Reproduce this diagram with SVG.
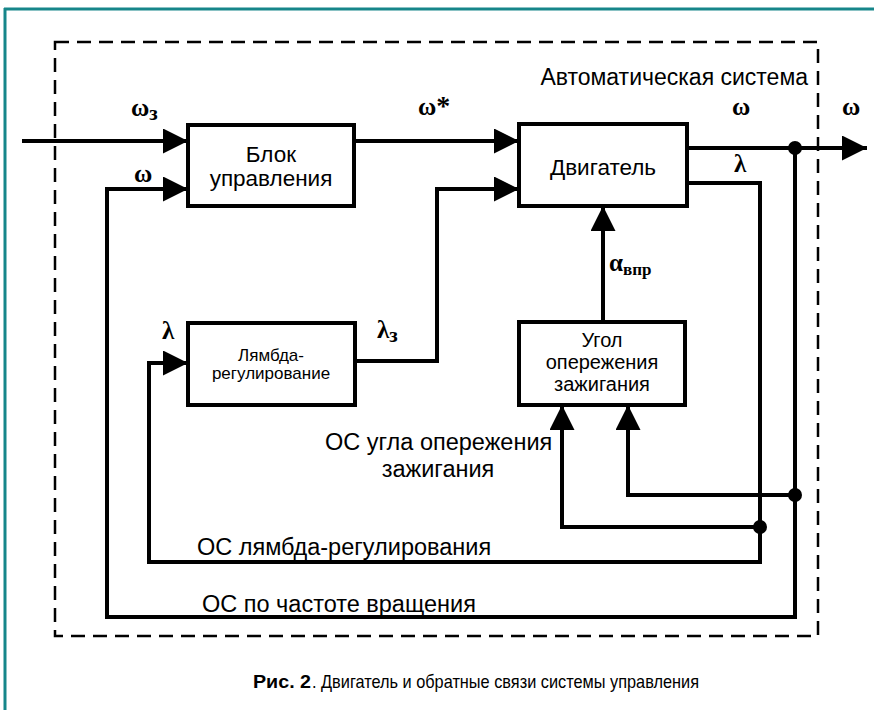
<svg xmlns="http://www.w3.org/2000/svg" width="874" height="710" viewBox="0 0 874 710">
  <style>
    .box { fill: #ffffff; stroke: #000000; stroke-width: 4; }
    .wire { fill: none; stroke: #000000; stroke-width: 4; stroke-linejoin: miter; }
    .lbl { font-family: "Liberation Sans", Arial, sans-serif; fill: #000000; }
    .sym { font-family: "Liberation Serif", "Times New Roman", serif; font-weight: bold; fill: #000000; font-size: 25px; }
    .dot { fill: #000000; }
  </style>
  <defs>
    <marker id="arrow" markerUnits="userSpaceOnUse" markerWidth="26" markerHeight="26" refX="25" refY="12.5" orient="auto">
      <path d="M0,0 L25,12.5 L0,25 Z" fill="#000000"/>
    </marker>
  </defs>

  <rect width="874" height="710" fill="#ffffff"/>

  <!-- page frame -->
  <g id="frame">
    <line x1="4" y1="9" x2="874" y2="9" stroke="#16868a" stroke-width="3"/>
    <line x1="5" y1="8" x2="5" y2="710" stroke="#16868a" stroke-width="3"/>
  </g>

  <!-- system boundary -->
  <g id="system">
    <rect x="55" y="42" width="763" height="594" fill="none" stroke="#000000" stroke-width="2.5" stroke-dasharray="14 8"/>
    <text class="lbl" x="808" y="85" font-size="23" text-anchor="end">Автоматическая система</text>
  </g>

  <!-- connectors -->
  <g id="connectors">
    <path class="wire" d="M22,141 H188" marker-end="url(#arrow)"/>
    <path class="wire" d="M354,141 H519" marker-end="url(#arrow)"/>
    <path class="wire" d="M687,148 H867" marker-end="url(#arrow)"/>
    <path class="wire" d="M795,148 V617 H107 V189 H188" marker-end="url(#arrow)"/>
    <path class="wire" d="M687,183 H760 V562 H149 V363 H188" marker-end="url(#arrow)"/>
    <path class="wire" d="M355,361 H437 V189 H519" marker-end="url(#arrow)"/>
    <path class="wire" d="M603,322 V206" marker-end="url(#arrow)"/>
    <path class="wire" d="M795,495 H628 V405" marker-end="url(#arrow)"/>
    <path class="wire" d="M760,527 H562 V405" marker-end="url(#arrow)"/>
    <circle class="dot" cx="795" cy="148" r="7"/>
    <circle class="dot" cx="795" cy="495" r="7"/>
    <circle class="dot" cx="760" cy="527" r="7"/>
  </g>

  <!-- signal labels -->
  <g id="signals">
    <text class="sym" x="131" y="116">ω<tspan font-size="21" dy="4">з</tspan></text>
    <text class="sym" x="134" y="182">ω</text>
    <text class="sym" x="418" y="115">ω<tspan font-size="28">*</tspan></text>
    <text class="sym" x="732" y="115">ω</text>
    <text class="sym" x="842" y="115">ω</text>
    <text class="sym" x="734" y="172">λ</text>
    <text class="sym" x="609" y="271">α<tspan font-size="17" dy="4">впр</tspan></text>
    <text class="sym" x="162" y="339">λ</text>
    <text class="sym" x="377" y="338">λ<tspan font-size="21" dy="4">з</tspan></text>
  </g>

  <g id="control-unit">
    <rect class="box" x="188" y="125" width="166" height="81"/>
    <text class="lbl" x="271" y="162" font-size="22.5" text-anchor="middle">Блок</text>
    <text class="lbl" x="271" y="186" font-size="22.5" text-anchor="middle">управления</text>
  </g>

  <g id="engine">
    <rect class="box" x="519" y="124" width="168" height="82"/>
    <text class="lbl" x="603" y="175" font-size="22.5" text-anchor="middle">Двигатель</text>
  </g>

  <g id="lambda-control">
    <rect class="box" x="188" y="323" width="167" height="82"/>
    <text class="lbl" x="271" y="361" font-size="17" text-anchor="middle">Лямбда-</text>
    <text class="lbl" x="271" y="379" font-size="17" text-anchor="middle">регулирование</text>
  </g>

  <g id="ignition-advance">
    <rect class="box" x="519" y="322" width="166" height="83"/>
    <text class="lbl" x="602" y="347" font-size="20" text-anchor="middle">Угол</text>
    <text class="lbl" x="602" y="369" font-size="20" text-anchor="middle">опережения</text>
    <text class="lbl" x="602" y="391" font-size="20" text-anchor="middle">зажигания</text>
  </g>

  <!-- feedback loop names -->
  <g id="loop-labels">
    <text class="lbl" x="325" y="450" font-size="23.5">ОС угла опережения</text>
    <text class="lbl" x="438" y="477" font-size="23.5" text-anchor="middle">зажигания</text>
    <text class="lbl" x="197" y="555" font-size="23.5">ОС лямбда-регулирования</text>
    <text class="lbl" x="202" y="612" font-size="23.5">ОС по частоте вращения</text>
  </g>

  <g id="caption">
    <text class="lbl" x="253" y="688" font-size="19" font-weight="bold" textLength="58" lengthAdjust="spacingAndGlyphs">Рис. 2</text>
    <text class="lbl" x="312" y="688" font-size="19" textLength="387" lengthAdjust="spacingAndGlyphs">. Двигатель и обратные связи системы управления</text>
  </g>
</svg>
